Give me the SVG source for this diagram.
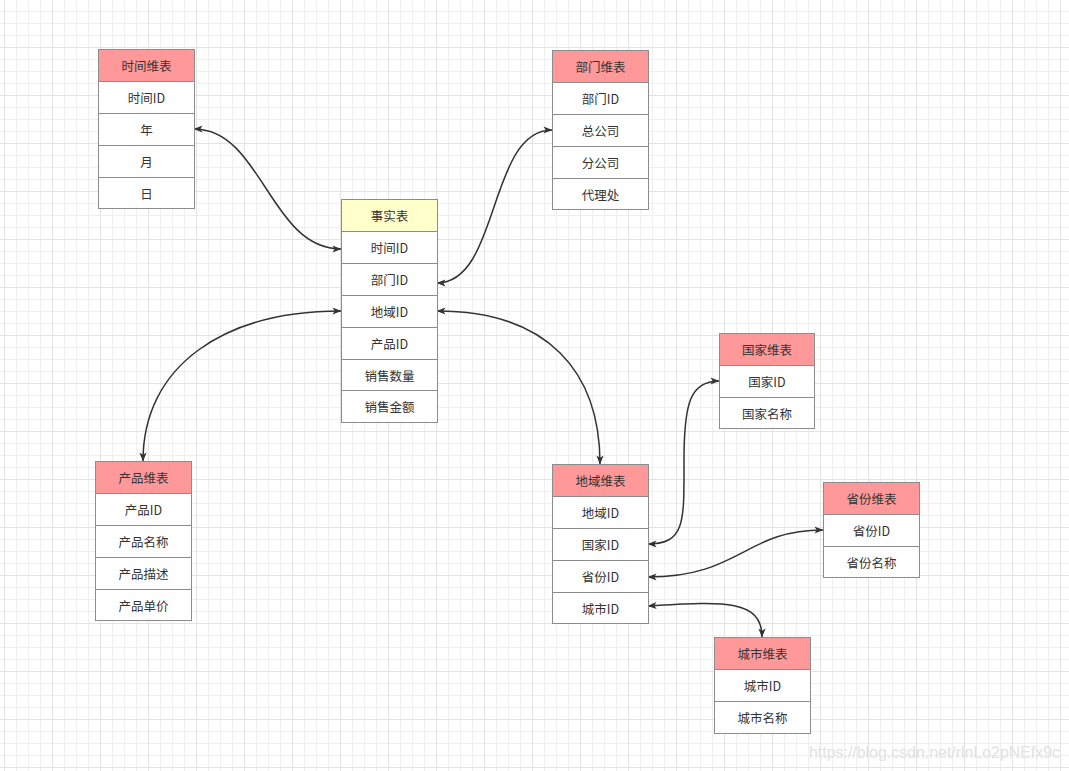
<svg xmlns="http://www.w3.org/2000/svg" width="1069" height="771" viewBox="0 0 1069 771">
<style>
.hd{fill:#ff9999;stroke:#8c8c8c;stroke-width:1}
.hdy{fill:#ffffcc;stroke:#8c8c8c;stroke-width:1}
.rw{fill:#ffffff;stroke:#8c8c8c;stroke-width:1}
.t{font-family:"Noto Sans CJK SC","Microsoft YaHei",sans-serif;font-size:12.5px;fill:#333333;text-anchor:middle;dominant-baseline:central}
.e{fill:none;stroke:#333333;stroke-width:1.5;marker-start:url(#ah);marker-end:url(#ah)}
.wm{font-family:"Liberation Sans",Arial,sans-serif;font-size:16px;fill:#e2e2e2}
</style>
<defs>
<pattern id="grid" x="4" y="-1" width="48" height="48" patternUnits="userSpaceOnUse">
<path d="M12.5,0V48M24.5,0V48M36.5,0V48M0,12.5H48M0,24.5H48M0,36.5H48" stroke="#efefef" stroke-width="1" fill="none"/>
<path d="M0.5,0V48M0,0.5H48" stroke="#e3e3e3" stroke-width="1" fill="none"/>
</pattern>
<marker id="ah" viewBox="0 0 10 10" refX="9.5" refY="5" markerWidth="11" markerHeight="9" markerUnits="userSpaceOnUse" orient="auto-start-reverse">
<path d="M0,1 L10,5 L0,9 L2.5,5 Z" fill="#333333"/>
</marker>
</defs>
<rect width="1069" height="771" fill="#ffffff"/>
<rect width="1069" height="771" fill="url(#grid)"/>

<g id="connectors">
<path class="e" d="M194,129 C262,129 270,249 341,249"/>
<path class="e" d="M437,283 C500,283 488,130 552,130"/>
<path class="e" d="M341,311 C225,311 143,365 143,461"/>
<path class="e" d="M437,311 C548,311 600,372 600,464"/>
<path class="e" d="M648,544 C686,544 684,520 684,460 C684,404 690,381 719,381"/>
<path class="e" d="M648,577 C740,577 745,530 823,530"/>
<path class="e" d="M648,606 C720,602 762,598 762,637"/>
</g>

<g id="time-dim">
<rect class="hd" x="98.5" y="49.5" width="96" height="32"/>
<rect class="rw" x="98.5" y="81.5" width="96" height="32"/>
<rect class="rw" x="98.5" y="113.5" width="96" height="32"/>
<rect class="rw" x="98.5" y="145.5" width="96" height="32"/>
<rect class="rw" x="98.5" y="177.5" width="96" height="31"/>
<text class="t" x="146.5" y="65.5">时间维表</text>
<text class="t" x="146.5" y="97.5">时间ID</text>
<text class="t" x="146.5" y="129.5">年</text>
<text class="t" x="146.5" y="161.5">月</text>
<text class="t" x="146.5" y="193">日</text>
</g>

<g id="dept-dim">
<rect class="hd" x="552.5" y="50.5" width="96" height="32"/>
<rect class="rw" x="552.5" y="82.5" width="96" height="32"/>
<rect class="rw" x="552.5" y="114.5" width="96" height="32"/>
<rect class="rw" x="552.5" y="146.5" width="96" height="32"/>
<rect class="rw" x="552.5" y="178.5" width="96" height="31"/>
<text class="t" x="600.5" y="66.5">部门维表</text>
<text class="t" x="600.5" y="98.5">部门ID</text>
<text class="t" x="600.5" y="130.5">总公司</text>
<text class="t" x="600.5" y="162.5">分公司</text>
<text class="t" x="600.5" y="194">代理处</text>
</g>

<g id="fact">
<rect class="hdy" x="341.5" y="199.5" width="96" height="32"/>
<rect class="rw" x="341.5" y="231.5" width="96" height="32"/>
<rect class="rw" x="341.5" y="263.5" width="96" height="32"/>
<rect class="rw" x="341.5" y="295.5" width="96" height="32"/>
<rect class="rw" x="341.5" y="327.5" width="96" height="32"/>
<rect class="rw" x="341.5" y="359.5" width="96" height="31"/>
<rect class="rw" x="341.5" y="390.5" width="96" height="32"/>
<text class="t" x="389.5" y="215.5">事实表</text>
<text class="t" x="389.5" y="247.5">时间ID</text>
<text class="t" x="389.5" y="279.5">部门ID</text>
<text class="t" x="389.5" y="311.5">地域ID</text>
<text class="t" x="389.5" y="343.5">产品ID</text>
<text class="t" x="389.5" y="375">销售数量</text>
<text class="t" x="389.5" y="406.5">销售金额</text>
</g>

<g id="region-dim">
<rect class="hd" x="552.5" y="464.5" width="96" height="32"/>
<rect class="rw" x="552.5" y="496.5" width="96" height="32"/>
<rect class="rw" x="552.5" y="528.5" width="96" height="32"/>
<rect class="rw" x="552.5" y="560.5" width="96" height="32"/>
<rect class="rw" x="552.5" y="592.5" width="96" height="31"/>
<text class="t" x="600.5" y="480.5">地域维表</text>
<text class="t" x="600.5" y="512.5">地域ID</text>
<text class="t" x="600.5" y="544.5">国家ID</text>
<text class="t" x="600.5" y="576.5">省份ID</text>
<text class="t" x="600.5" y="608">城市ID</text>
</g>

<g id="country-dim">
<rect class="hd" x="719.5" y="333.5" width="95" height="32"/>
<rect class="rw" x="719.5" y="365.5" width="95" height="32"/>
<rect class="rw" x="719.5" y="397.5" width="95" height="31"/>
<text class="t" x="767" y="349.5">国家维表</text>
<text class="t" x="767" y="381.5">国家ID</text>
<text class="t" x="767" y="413">国家名称</text>
</g>

<g id="product-dim">
<rect class="hd" x="95.5" y="461.5" width="96" height="32"/>
<rect class="rw" x="95.5" y="493.5" width="96" height="32"/>
<rect class="rw" x="95.5" y="525.5" width="96" height="32"/>
<rect class="rw" x="95.5" y="557.5" width="96" height="32"/>
<rect class="rw" x="95.5" y="589.5" width="96" height="31"/>
<text class="t" x="143.5" y="477.5">产品维表</text>
<text class="t" x="143.5" y="509.5">产品ID</text>
<text class="t" x="143.5" y="541.5">产品名称</text>
<text class="t" x="143.5" y="573.5">产品描述</text>
<text class="t" x="143.5" y="605">产品单价</text>
</g>

<g id="province-dim">
<rect class="hd" x="823.5" y="482.5" width="96" height="32"/>
<rect class="rw" x="823.5" y="514.5" width="96" height="32"/>
<rect class="rw" x="823.5" y="546.5" width="96" height="31"/>
<text class="t" x="871.5" y="498.5">省份维表</text>
<text class="t" x="871.5" y="530.5">省份ID</text>
<text class="t" x="871.5" y="562">省份名称</text>
</g>

<g id="city-dim">
<rect class="hd" x="714.5" y="637.5" width="96" height="32"/>
<rect class="rw" x="714.5" y="669.5" width="96" height="32"/>
<rect class="rw" x="714.5" y="701.5" width="96" height="32"/>
<text class="t" x="762.5" y="653.5">城市维表</text>
<text class="t" x="762.5" y="685.5">城市ID</text>
<text class="t" x="762.5" y="717.5">城市名称</text>
</g>

<text class="wm" x="809" y="758" textLength="251" lengthAdjust="spacingAndGlyphs">https://blog.csdn.net/rlnLo2pNEfx9c</text>
</svg>
